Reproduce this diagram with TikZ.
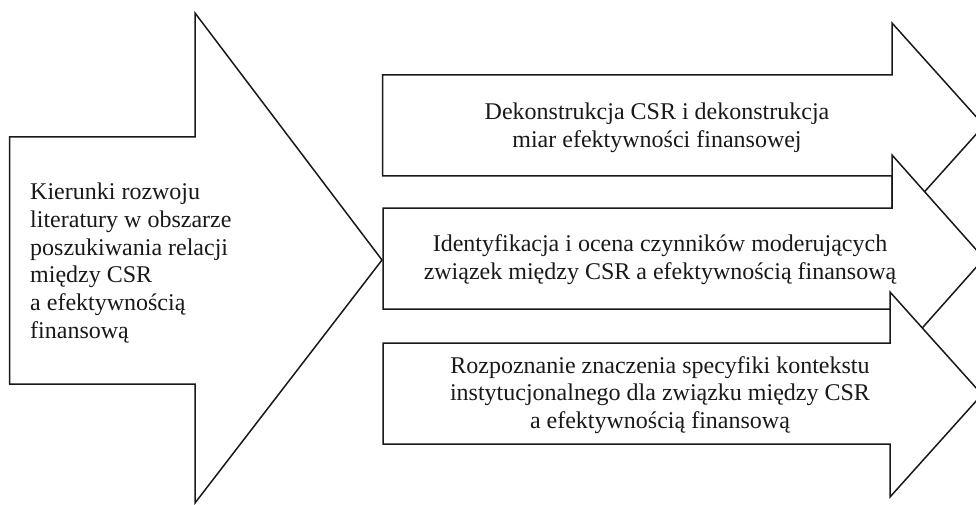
\documentclass[tikz,border=0pt]{standalone}
\usepackage{fontspec}
\setmainfont{Liberation Serif}
\begin{document}
\begin{tikzpicture}[x=1pt,y=-1pt,
  arrowshape/.style={draw=black!90,fill=white,line width=1.5pt,line join=miter},
  lbl/.style={font=\fontsize{24}{27.8}\selectfont,inner sep=0pt,text=black!90}]
\useasboundingbox (0,0) rectangle (976,505);
\clip (0,0) rectangle (976,505);
% big arrow
\draw[arrowshape] (9.5,137) -- (195,137) -- (195,13) -- (382,260) -- (195,503) -- (195,384) -- (9.5,384) -- cycle;
% right arrows
\draw[arrowshape] (382.5,75) -- (892,75) -- (892,23) -- (984,125.5) -- (892,228) -- (892,176) -- (382.5,176) -- cycle;
\draw[arrowshape] (383,208) -- (892,208) -- (892,155) -- (984,258.5) -- (892,362) -- (892,309) -- (383,309) -- cycle;
\draw[arrowshape] (383,343) -- (890,343) -- (890,292) -- (982,394.5) -- (890,497) -- (890,444) -- (383,444) -- cycle;
% texts
\node[lbl,anchor=west,align=left] (main) at (30,263) {Kierunki rozwoju\\literatury w obszarze\\poszukiwania relacji\\między CSR\\a efektywnością\\finansową};
\node[lbl,align=center] (t1) at (657,128) {Dekonstrukcja CSR i dekonstrukcja\\miar efektywności finansowej};
\node[lbl,align=center] (t2) at (660,260) {Identyfikacja i ocena czynników moderujących\\związek między CSR a efektywnością finansową};
\node[lbl,align=center] (t3) at (660,395) {Rozpoznanie znaczenia specyfiki kontekstu\\instytucjonalnego dla związku między CSR\\a efektywnością finansową};
\end{tikzpicture}
\end{document}
